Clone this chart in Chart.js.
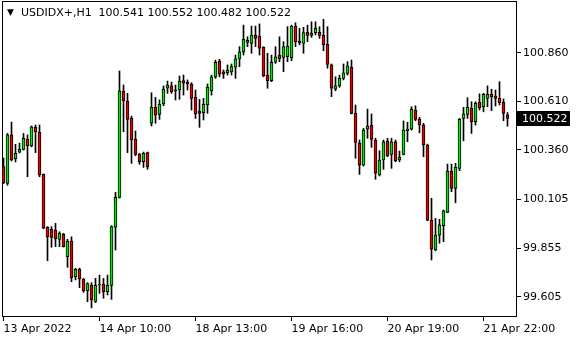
<!DOCTYPE html>
<html><head><meta charset="utf-8">
<script src="https://cdn.jsdelivr.net/npm/chart.js@4.4.1/dist/chart.umd.min.js"></script>
<style>html,body{margin:0;padding:0;background:#fff;overflow:hidden}#wrap{width:580px;height:340px;position:relative}</style>
</head><body><div id="wrap"><canvas id="c" width="580" height="340"></canvas></div>
<script>
const symbolLabel = 'USDIDX+,H1';
const xTickLabels = ['13 Apr 2022','14 Apr 10:00','18 Apr 13:00','19 Apr 16:00','20 Apr 19:00','21 Apr 22:00'];
const xTickEvery = 24;
const yTickValues = [99.605, 99.855, 100.105, 100.360, 100.610, 100.860];

const opens = [100.274,100.188,100.437,100.315,100.348,100.363,100.414,100.380,100.476,100.450,
100.236,99.962,99.952,99.948,99.900,99.926,99.811,99.891,99.708,99.746,
99.694,99.636,99.665,99.581,99.665,99.670,99.631,99.663,99.962,100.116,
100.663,100.610,100.522,100.414,100.337,100.299,100.346,100.497,100.579,100.543,
100.596,100.677,100.689,100.668,100.668,100.716,100.709,100.699,100.630,100.560,
100.551,100.591,100.663,100.736,100.817,100.761,100.757,100.761,100.785,100.828,
100.864,100.913,100.908,100.951,100.946,100.888,100.745,100.716,100.811,100.847,
100.836,100.839,100.834,100.997,100.920,100.908,100.965,100.949,100.963,100.965,
100.949,100.903,100.797,100.672,100.689,100.728,100.754,100.785,100.548,100.397,
100.282,100.466,100.488,100.411,100.231,100.308,100.406,100.337,100.402,100.308,
100.337,100.459,100.466,100.565,100.519,100.488,100.385,99.999,99.845,99.922,
99.970,100.039,100.251,100.162,100.265,100.522,100.543,100.574,100.505,100.605,
100.582,100.625,100.646,100.637,100.625,100.605,100.541];
const highs = [100.318,100.445,100.503,100.389,100.395,100.445,100.437,100.483,100.488,100.488,
100.236,99.965,99.965,99.982,99.939,99.931,99.900,99.913,99.751,99.752,
99.699,99.677,99.677,99.699,99.716,99.699,99.716,99.970,100.142,100.766,
100.694,100.651,100.534,100.457,100.342,100.349,100.349,100.654,100.630,100.617,
100.689,100.714,100.709,100.694,100.740,100.745,100.720,100.706,100.668,100.620,
100.625,100.699,100.745,100.822,100.826,100.771,100.797,100.802,100.848,100.891,
101.002,100.942,100.997,100.997,101.008,100.891,100.857,100.848,100.891,100.942,
100.917,100.994,101.002,101.014,100.985,100.991,101.002,101.019,101.019,100.994,
101.032,100.994,100.802,100.736,100.745,100.802,100.814,100.822,100.591,100.411,
100.471,100.570,100.545,100.420,100.356,100.411,100.420,100.420,100.411,100.354,
100.509,100.502,100.582,100.587,100.528,100.497,100.390,100.111,100.008,100.003,
100.051,100.287,100.287,100.291,100.522,100.579,100.628,100.608,100.608,100.648,
100.651,100.689,100.672,100.668,100.711,100.622,100.552];
const lows = [100.187,100.178,100.303,100.298,100.344,100.359,100.222,100.376,100.346,100.222,
99.955,99.790,99.859,99.862,99.862,99.860,99.756,99.682,99.691,99.651,
99.627,99.579,99.547,99.574,99.622,99.597,99.614,99.591,99.845,100.112,
100.454,100.346,100.291,100.330,100.286,100.270,100.260,100.483,100.497,100.517,
100.587,100.651,100.651,100.617,100.620,100.642,100.668,100.565,100.522,100.476,
100.514,100.548,100.642,100.728,100.736,100.728,100.745,100.745,100.728,100.788,
100.848,100.891,100.857,100.891,100.848,100.736,100.677,100.711,100.805,100.814,
100.762,100.814,100.819,100.891,100.900,100.857,100.917,100.939,100.951,100.934,
100.870,100.780,100.634,100.664,100.682,100.720,100.745,100.545,100.317,100.234,
100.277,100.420,100.373,100.209,100.226,100.260,100.325,100.265,100.299,100.299,
100.334,100.402,100.462,100.510,100.448,100.325,99.996,99.794,99.841,99.880,
99.888,100.037,100.145,100.088,100.253,100.407,100.522,100.445,100.488,100.565,
100.556,100.582,100.562,100.586,100.591,100.510,100.482];
const closes = [100.191,100.437,100.308,100.342,100.363,100.420,100.382,100.479,100.454,100.231,
99.958,99.913,99.910,99.902,99.931,99.862,99.890,99.703,99.746,99.696,
99.636,99.672,99.588,99.663,99.669,99.631,99.663,99.965,100.116,100.664,
100.613,100.517,100.411,100.337,100.299,100.342,100.274,100.579,100.539,100.595,
100.673,100.694,100.659,100.664,100.714,100.703,100.699,100.625,100.545,100.548,
100.595,100.682,100.736,100.811,100.750,100.750,100.771,100.788,100.828,100.864,
100.929,100.924,100.951,100.934,100.883,100.740,100.716,100.811,100.839,100.829,
100.891,100.894,100.997,100.917,100.911,100.963,100.949,100.960,100.985,100.949,
100.900,100.800,100.677,100.689,100.728,100.757,100.792,100.548,100.399,100.282,
100.462,100.483,100.414,100.240,100.308,100.402,100.330,100.402,100.303,100.323,
100.462,100.467,100.569,100.517,100.488,100.385,99.999,99.849,99.922,99.974,
100.046,100.251,100.162,100.270,100.517,100.545,100.579,100.505,100.600,100.577,
100.646,100.646,100.634,100.625,100.603,100.548,100.522];

const BULL = '#00e600', BEAR = '#e60000', INK = '#000000';
const FONT = "'DejaVu Sans'";
Chart.defaults.font.family = FONT;
Chart.defaults.font.size = 11;
Chart.defaults.color = INK;

const last = closes.length - 1;
const headerValues = [opens[last], highs[last], lows[last], closes[last]].map(v => v.toFixed(3)).join(' ');

const overlay = {
  id: 'overlay',
  beforeDatasetsDraw(chart) {
    const {ctx, chartArea: a} = chart;
    ctx.save();
    ctx.strokeStyle = INK; ctx.lineWidth = 1;
    ctx.strokeRect(a.left + 0.5, a.top + 0.5, a.right - a.left - 1, a.bottom - a.top - 1);
    ctx.restore();
  },
  afterDraw(chart) {
    const {ctx, chartArea: a} = chart;
    ctx.save();
    ctx.fillStyle = INK;
    ctx.textBaseline = 'middle';
    ctx.font = "9px " + FONT;
    ctx.fillText('\u25BC', a.left + 5, 13);
    ctx.font = "11px " + FONT;
    ctx.fillText(symbolLabel, a.left + 19, 13);
    ctx.fillText(headerValues, a.left + 96.5, 13);
    // current price box
    const y = chart.scales.y.getPixelForValue(closes[last]);
    const top = Math.round(y - 7.5);
    ctx.fillStyle = INK;
    ctx.fillRect(a.right, top, 53, 15);
    ctx.fillStyle = '#ffffff';
    ctx.fillText(closes[last].toFixed(3), a.right + 5, top + 8);
    ctx.restore();
  }
};

new Chart(document.getElementById('c').getContext('2d'), {
  type: 'bar',
  data: {
    datasets: [
      {
        label: 'body',
        data: opens.map((o, i) => ({x: i, y: [o, closes[i]]})),
        backgroundColor: opens.map((o, i) => closes[i] >= o ? BULL : BEAR),
        borderColor: INK, borderWidth: 1, borderSkipped: false,
        barThickness: 3, grouped: false, order: 0, minBarLength: 1
      },
      {
        label: 'wick',
        data: lows.map((l, i) => ({x: i, y: [l, highs[i]]})),
        backgroundColor: INK, borderWidth: 0,
        barThickness: 1, grouped: false, order: 1
      }
    ]
  },
  options: {
    responsive: false, animation: false, devicePixelRatio: 1,
    layout: {padding: {left: 2, top: 1, right: 0, bottom: 0}},
    plugins: {legend: {display: false}, tooltip: {enabled: false}, title: {display: false}},
    scales: {
      x: {
        type: 'linear', min: -0.375, max: 128.375, offset: false,
        afterBuildTicks: s => { s.ticks = xTickLabels.map((t, k) => ({value: k * xTickEvery})); },
        afterFit: s => { s.height = 23; s.paddingLeft = 0; s.paddingRight = 0; },
        grid: {drawOnChartArea: false, drawTicks: true, tickLength: 4, color: INK, offset: false},
        border: {display: false},
        ticks: {autoSkip: false, maxRotation: 0, minRotation: 0, align: 'start', padding: 2,
          callback: v => xTickLabels[Math.round(v / xTickEvery)]}
      },
      y: {
        type: 'linear', position: 'right', min: 99.50044, max: 101.12595,
        afterBuildTicks: s => { s.ticks = yTickValues.map(v => ({value: v})); },
        afterFit: s => { s.width = 63; s.paddingTop = 0; s.paddingBottom = 0; },
        grid: {drawOnChartArea: false, drawTicks: true, tickLength: 4, color: INK},
        border: {display: false},
        ticks: {padding: 2, callback: v => Number(v).toFixed(3)}
      }
    }
  },
  plugins: [overlay]
});
</script></body></html>
